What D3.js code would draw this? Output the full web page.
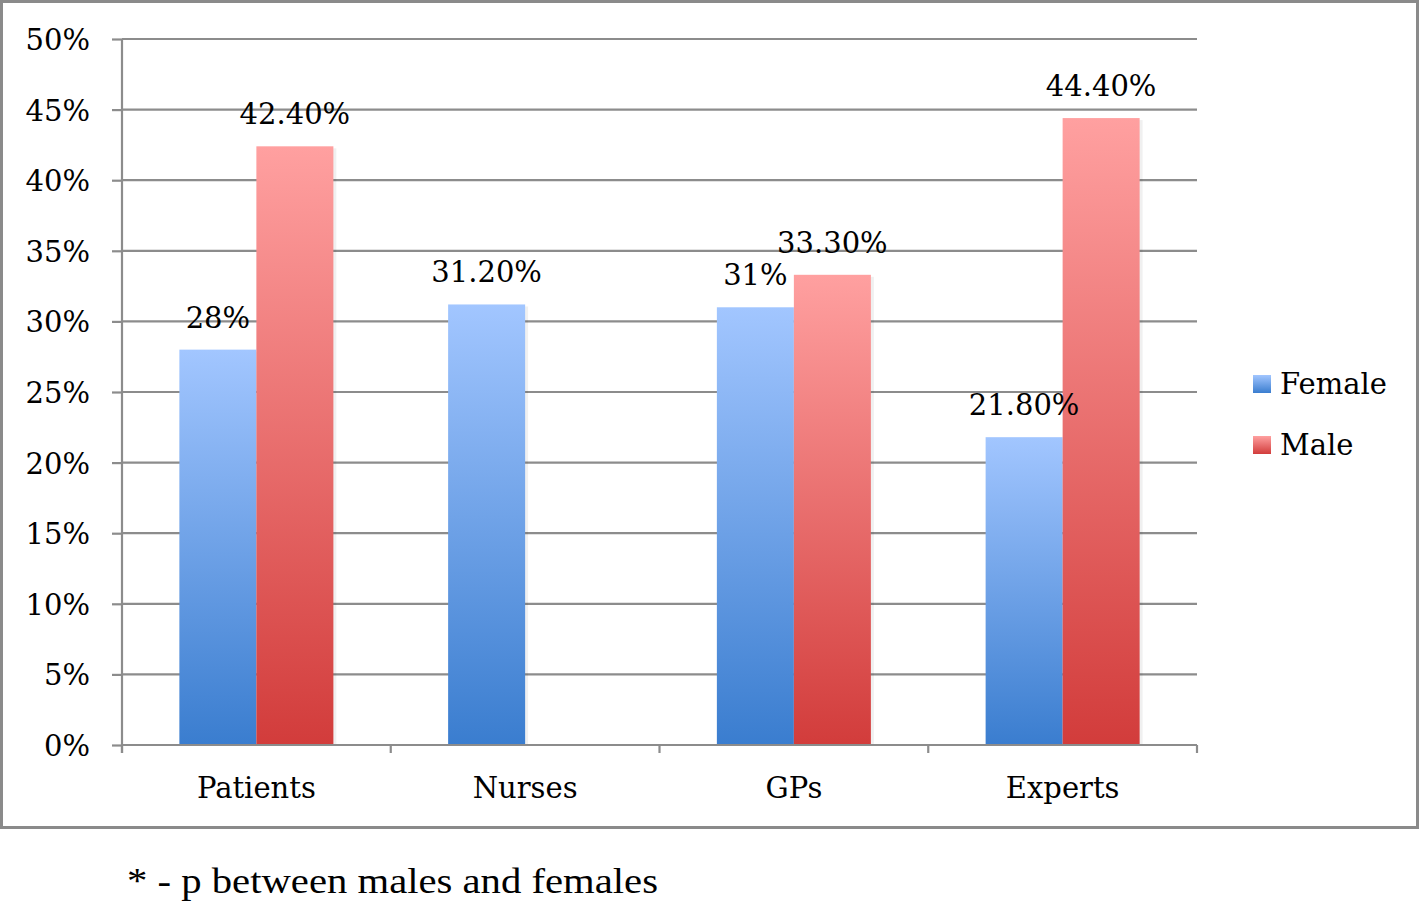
<!DOCTYPE html>
<html>
<head>
<meta charset="utf-8">
<script src="https://cdn.jsdelivr.net/npm/d3@7/dist/d3.min.js"></script>
<style>
  html, body { margin: 0; padding: 0; background: #fff; }
  svg { display: block; }
  text { font-family: "DejaVu Serif", serif; fill: #000; }
</style>
</head>
<body>
<svg id="chart" width="1420" height="904"></svg>
<script>
const categories = ["Patients", "Nurses", "GPs", "Experts"];
const seriesNames = ["Female", "Male"];
const female = [28, 31.2, 31, 21.8];
const male = [42.4, null, 33.3, 44.4];
const femaleLabels = ["28%", "31.20%", "31%", "21.80%"];
const maleLabels = ["42.40%", "", "33.30%", "44.40%"];
const yTicks = [0, 5, 10, 15, 20, 25, 30, 35, 40, 45, 50];
const footnote = "* - p between males and females";

const svg = d3.select("#chart");
const W = 1420, H = 904;
const plot = { left: 122, right: 1197, top: 39, bottom: 745 };

// gradients
const defs = svg.append("defs");
function grad(id, top, bottom) {
  const g = defs.append("linearGradient").attr("id", id)
    .attr("x1", 0).attr("y1", 0).attr("x2", 0).attr("y2", 1);
  g.append("stop").attr("offset", "0%").attr("stop-color", top);
  g.append("stop").attr("offset", "100%").attr("stop-color", bottom);
}
grad("gF", "#a2c6ff", "#3a7dcf");
grad("gM", "#ffa0a0", "#d23c3b");
const fills = { Female: "url(#gF)", Male: "url(#gM)" };

// outer border
svg.append("rect").attr("x", 1.5).attr("y", 1.5).attr("width", 1416).attr("height", 826)
  .attr("fill", "#fff").attr("stroke", "#8a8a8a").attr("stroke-width", 3);

const y = d3.scaleLinear().domain([0, 50]).range([plot.bottom, plot.top]);
const x0 = d3.scaleBand().domain(categories).range([plot.left, plot.right]).paddingInner(0).paddingOuter(0);
const x1 = d3.scaleBand().domain(seriesNames).range([0, x0.bandwidth()]).paddingInner(0).paddingOuter(0.745);

// gridlines + y ticks
const yAxis = d3.axisLeft(y).tickValues(yTicks).tickSize(10).tickFormat(d => d + "%");
const gy = svg.append("g").attr("transform", `translate(${plot.left},0)`).call(yAxis);
gy.select(".domain").remove();
gy.selectAll(".tick line").attr("stroke", "#8c8c8c").attr("stroke-width", 2.2);
gy.selectAll(".tick text").attr("x", -32).attr("dy", "0.36em")
  .style("font-size", "29px").style("font-family", '"DejaVu Serif", serif').attr("fill", "#000");
svg.append("g").selectAll("line").data(yTicks.filter(d => d > 0)).join("line")
  .attr("x1", plot.left).attr("x2", plot.right)
  .attr("y1", d => y(d)).attr("y2", d => y(d))
  .attr("stroke", "#8c8c8c").attr("stroke-width", 2.2);

// rows of data
const rows = categories.map((c, i) => ({
  cat: c,
  vals: [
    { s: "Female", v: female[i], label: femaleLabels[i] },
    { s: "Male", v: male[i], label: maleLabels[i] }
  ].filter(d => d.v != null)
}));

const groups = svg.append("g").selectAll("g").data(rows).join("g")
  .attr("transform", d => `translate(${x0(d.cat)},0)`);

// subtle shadow
groups.selectAll("rect.sh").data(d => d.vals).join("rect").attr("class", "sh")
  .attr("x", d => x1(d.s) + 3).attr("width", x1.bandwidth())
  .attr("y", d => y(d.v) + 2).attr("height", d => y(0) - y(d.v) - 2)
  .attr("fill", "#000").attr("opacity", 0.06);

groups.selectAll("rect.bar").data(d => d.vals).join("rect").attr("class", "bar")
  .attr("x", d => x1(d.s)).attr("width", x1.bandwidth())
  .attr("y", d => y(d.v)).attr("height", d => y(0) - y(d.v))
  .attr("fill", d => fills[d.s]);

groups.selectAll("text.lbl").data(d => d.vals).join("text").attr("class", "lbl")
  .attr("x", d => x1(d.s) + x1.bandwidth() / 2)
  .attr("y", d => y(d.v) - 22)
  .attr("text-anchor", "middle")
  .style("font-size", "29px")
  .text(d => d.label);

// x axis
const xAxis = d3.axisBottom(x0).tickSize(0).tickFormat(d => d);
const gx = svg.append("g").attr("transform", `translate(0,${plot.bottom})`).call(xAxis);
gx.select(".domain").attr("stroke", "#8c8c8c").attr("stroke-width", 2.2)
  .attr("d", `M${plot.left},0H${plot.right}`);
gx.selectAll(".tick text").attr("y", 53).attr("dy", 0)
  .style("font-size", "29px").style("font-family", '"DejaVu Serif", serif').attr("fill", "#000");
const bounds = categories.map(c => x0(c)).concat([plot.right]);
svg.append("g").selectAll("line").data(bounds).join("line")
  .attr("x1", d => d).attr("x2", d => d)
  .attr("y1", plot.bottom).attr("y2", plot.bottom + 8)
  .attr("stroke", "#8c8c8c").attr("stroke-width", 2.2);
// y axis line
svg.append("line").attr("x1", plot.left).attr("x2", plot.left)
  .attr("y1", plot.top).attr("y2", plot.bottom + 8)
  .attr("stroke", "#8c8c8c").attr("stroke-width", 2.2);

// legend
const legend = svg.append("g").selectAll("g").data(seriesNames).join("g")
  .attr("transform", (d, i) => `translate(1253,${375 + i * 61})`);
legend.append("rect").attr("width", 18).attr("height", 18).attr("fill", d => fills[d]);
legend.append("text").attr("x", 27).attr("y", 19).style("font-size", "29px").text(d => d);

// footnote
svg.append("text").attr("x", 127).attr("y", 893)
  .style("font-family", '"Liberation Serif", "Times New Roman", serif')
  .style("font-size", "35px")
  .attr("textLength", 531).attr("lengthAdjust", "spacingAndGlyphs")
  .text(footnote);
</script>
</body>
</html>
